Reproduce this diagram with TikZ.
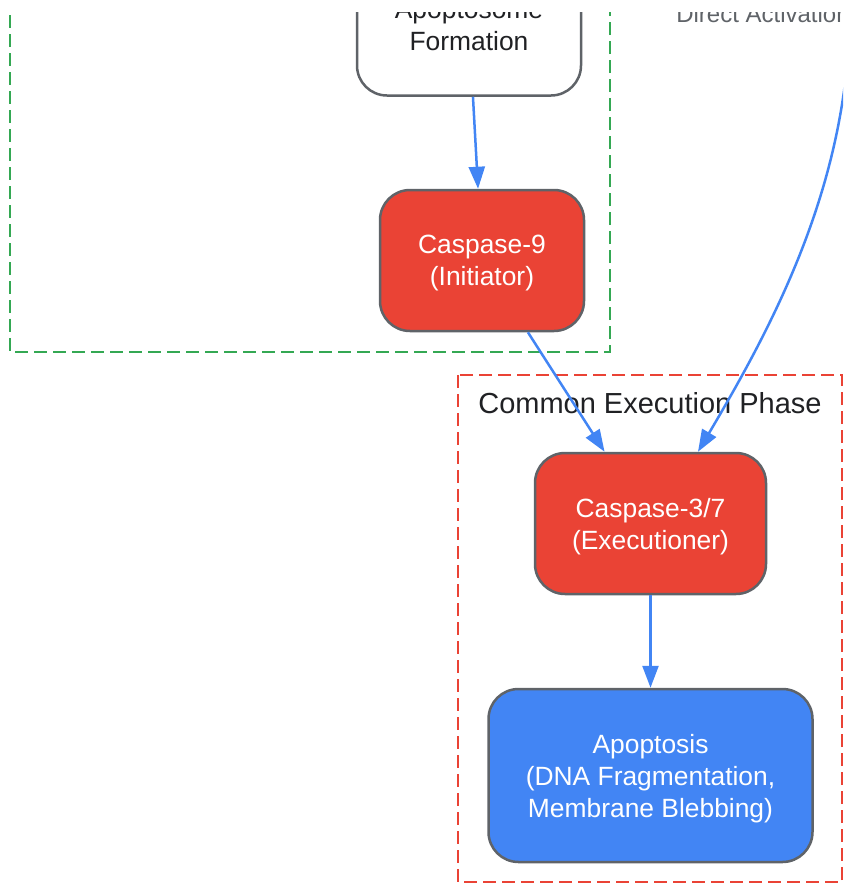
\documentclass[tikz,border=0pt]{standalone}
\usepackage{fontspec}
\setmainfont{Liberation Sans}
\usepackage{xcolor}
\usetikzlibrary{arrows.meta,positioning}
\definecolor{gred}{HTML}{EA4335}
\definecolor{gblue}{HTML}{4285F4}
\definecolor{ggreen}{HTML}{34A853}
\definecolor{ggray}{HTML}{5F6368}
\definecolor{gdark}{HTML}{202124}
\begin{document}
\begin{tikzpicture}[x=1pt,y=-1pt]
        \tikzstyle{every node}+=[inner sep=0pt]
        \tikzstyle{box}=[draw=ggray, line width=2.5pt, rounded corners=30pt, align=center, text depth=-3.5pt, font=\fontsize{26.4}{32}\selectfont]
        \tikzstyle{plain}=[box, fill=white, text=gdark]
        \tikzstyle{enzyme}=[box, fill=gred, text=white]
        \tikzstyle{outcome}=[box, fill=gblue, text=white]
        \tikzstyle{flow}=[gblue, line width=2.5pt, -{Triangle[length=22pt,width=16pt]}]
        \tikzstyle{phase}=[line width=2pt, dash pattern=on 13pt off 6pt]
        \useasboundingbox (0,0) rectangle (844,884);
        \clip (0,12) rectangle (843,884);
        % phase frames
        \draw [phase, ggreen] (10,-80) rectangle (610,352);
        \draw [phase, gred] (458,375) rectangle (842,882);
        \node [text=gdark, font=\fontsize{29}{34}\selectfont] (exectitle) at (650,403) {Common Execution Phase};
        % nodes
        \node [plain, minimum width=224pt, minimum height=141pt] (apop) at (469,25) {Apoptosome\\Formation};
        \node [enzyme, minimum width=204pt, minimum height=141pt] (cas9) at (482,260.5) {Caspase-9\\(Initiator)};
        \node [enzyme, minimum width=231pt, minimum height=141pt] (cas37) at (650.5,523.5) {Caspase-3/7\\(Executioner)};
        \node [outcome, minimum width=324pt, minimum height=173pt] (death) at (650.5,775.5) {Apoptosis\\(DNA Fragmentation,\\Membrane Blebbing)};
        \coordinate (cas8) at (849,40);
        \node [text=ggray, font=\fontsize{24}{28}\selectfont] (directlbl) at (763,14) {Direct Activation};
        % connectors
        \draw [flow] (apop) -- (cas9);
        \draw [flow] (cas9) -- (cas37);
        \draw [flow] (cas37) -- (death);
        \draw [flow] (cas8) .. controls (840,200) and (770,330) .. ([xshift=47.5pt]cas37.north);
\end{tikzpicture}
\end{document}
